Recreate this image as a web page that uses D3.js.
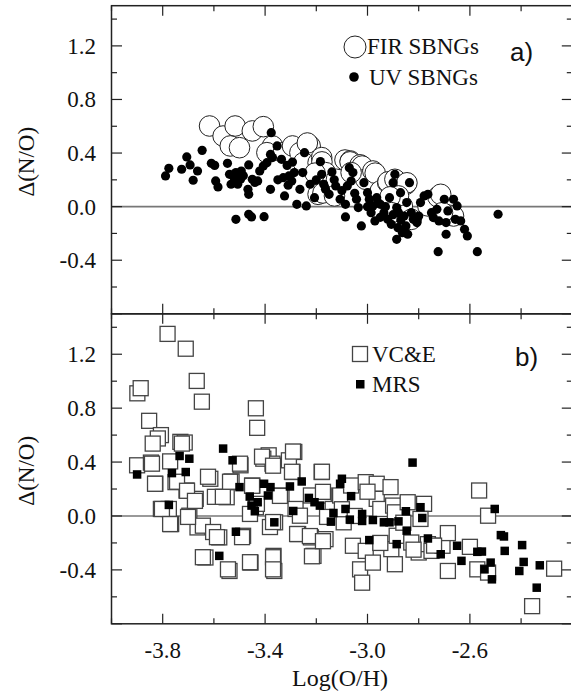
<!DOCTYPE html>
<html><head><meta charset="utf-8">
<script src="https://cdn.jsdelivr.net/npm/d3@7"></script>
<style>body{margin:0;background:#fff}svg{display:block}</style>
</head><body>
<svg id="c" width="571" height="694"></svg>
<script>
// ---- data ----
const xTicksMajor = [-3.8, -3.4, -3.0, -2.6];
const xTickLabels = ["-3.8", "-3.4", "-3.0", "-2.6"];
const yTicksMajor = [1.2, 0.8, 0.4, 0.0, -0.4];
const yTickLabels = ["1.2", "0.8", "0.4", "0.0", "-0.4"];

const firSBNGs = [
[-3.617,0.602],[-3.564,0.527],[-3.517,0.602],[-3.536,0.453],[-3.5,0.44],[-3.45,0.565],[-3.407,0.597],
[-3.371,0.453],[-3.393,0.403],[-3.329,0.403],[-3.293,0.453],[-3.264,0.403],[-3.224,0.453],[-3.25,0.328],
[-3.235,0.475],[-3.193,0.328],[-3.179,0.366],[-3.178,0.334],[-3.193,0.092],[-3.174,0.102],[-3.164,0.254],
[-3.205,0.25],[-3.121,0.204],[-3.129,0.08],[-3.088,0.348],[-3.067,0.341],[-3.068,0.334],[-3.029,0.312],
[-3.021,0.303],[-3.007,0.204],[-2.979,0.266],[-2.97,0.25],[-3.064,0.254],[-2.95,0.117],[-2.921,0.179],
[-2.92,0.185],[-2.893,0.204],[-2.85,0.167],[-2.846,0.178],[-2.864,0.005],[-2.879,0.08],[-2.912,0.073],
[-2.907,-0.045],[-2.829,-0.095],[-2.764,0.005],[-2.725,0.073],[-2.714,0.092],[-2.686,-0.062],
[-2.664,-0.07],[-2.707,-0.045]
];
const uvSBNGs = [
[-3.789,0.229],[-3.776,0.286],[-3.726,0.279],[-3.706,0.371],[-3.693,0.311],[-3.681,0.197],[-3.664,0.266],
[-3.646,0.42],[-3.61,0.323],[-3.597,0.308],[-3.593,0.192],[-3.584,0.147],[-3.547,0.323],[-3.539,0.241],
[-3.533,0.167],[-3.514,0.254],[-3.507,0.167],[-3.493,0.266],[-3.496,0.204],[-3.464,0.311],[-3.467,0.129],
[-3.464,0.092],[-3.45,0.204],[-3.429,0.192],[-3.421,0.266],[-3.407,0.303],[-3.393,0.328],[-3.376,0.552],
[-3.353,0.453],[-3.379,0.129],[-3.379,0.39],[-3.371,0.366],[-3.336,0.353],[-3.324,0.08],[-3.514,-0.095],
[-3.464,-0.057],[-3.453,-0.077],[-3.404,-0.075],[-3.329,0.216],[-3.314,0.308],[-3.293,0.333],[-3.307,0.229],
[-3.296,0.192],[-3.286,0.254],[-3.276,0.017],[-3.264,0.129],[-3.253,0.254],[-3.246,0.403],[-3.239,0.005],
[-3.224,0.167],[-3.207,0.067],[-3.184,0.336],[-3.179,0.241],[-3.171,0.167],[-3.164,0.129],[-3.15,0.092],
[-3.139,0.259],[-3.124,0.154],[-3.107,0.055],[-3.086,-0.077],[-3.079,0.154],[-3.071,0.291],[-3.086,0.017],
[-3.064,0.191],[-3.057,0.254],[-3.043,0.055],[-3.036,-0.007],[-3.024,-0.144],[-3.014,0.179],[-3.0,0.104],
[-2.993,0.055],[-2.986,-0.045],[-2.979,0.005],[-2.971,-0.107],[-2.964,0.067],[-2.95,0.017],[-2.936,-0.045],
[-2.921,-0.095],[-2.914,0.067],[-2.907,-0.132],[-2.9,0.179],[-2.893,0.241],[-2.886,-0.244],[-2.886,-0.007],
[-2.881,-0.157],[-2.879,-0.045],[-2.871,0.104],[-2.864,-0.194],[-2.857,-0.07],[-2.85,-0.144],[-2.847,0.03],
[-2.843,-0.206],[-2.836,0.179],[-2.829,-0.045],[-2.821,-0.095],[-2.807,-0.119],[-2.8,-0.07],[-2.793,0.03],
[-2.779,0.08],[-2.764,0.092],[-2.75,-0.045],[-2.743,-0.082],[-2.729,-0.02],[-2.724,-0.336],[-2.721,-0.107],
[-2.7,0.055],[-2.693,-0.206],[-2.693,-0.119],[-2.686,-0.032],[-2.664,0.055],[-2.657,-0.095],[-2.65,0.005],
[-2.636,-0.107],[-2.621,-0.169],[-2.61,-0.219],[-2.571,-0.336],[-2.49,-0.057],
[-3.52,0.21],[-3.485,0.23],[-3.44,0.18],[-3.35,0.2],[-3.31,0.16],[-3.2,0.2],[-3.13,0.2],[-3.1,0.12],
[-3.05,0.1],[-2.96,0.03],[-2.93,0.0],[-2.9,-0.06],[-2.87,-0.1],[-2.95,-0.08],[-3.0,0.0]
];
const vcE = [
[-3.781,1.351],[-3.71,1.241],[-3.667,1.002],[-3.647,0.848],[-3.899,0.91],[-3.886,0.948],[-3.853,0.706],
[-3.807,0.6],[-3.819,0.575],[-3.839,0.537],[-3.9,0.376],[-3.846,0.396],[-3.771,0.405],[-3.731,0.55],
[-3.714,0.545],[-3.829,0.239],[-3.75,0.251],[-3.707,0.189],[-3.671,0.127],[-3.807,0.052],[-3.776,0.052],
[-3.767,-0.06],[-3.696,0.002],[-3.664,-0.085],[-3.643,-0.072],[-3.579,-0.159],[-3.614,0.276],[-3.633,-0.308],
[-3.539,-0.408],[-3.531,0.256],[-3.55,0.139],[-3.496,0.376],[-3.486,-0.147],[-3.457,-0.346],[-3.436,0.799],
[-3.431,0.654],[-3.45,0.226],[-3.436,0.065],[-3.386,0.45],[-3.407,0.425],[-3.371,0.388],[-3.367,-0.296],
[-3.364,-0.408],[-3.361,-0.047],[-3.336,0.152],[-3.286,0.475],[-3.293,0.326],[-3.307,0.413],[-3.281,0.052],
[-3.271,-0.134],[-3.264,0.002],[-3.221,0.152],[-3.211,-0.296],[-3.221,-0.159],[-3.179,0.326],[-3.171,0.152],
[-3.164,-0.172],[-3.136,0.052],[-3.107,0.152],[-3.093,-0.047],[-3.064,0.226],[-3.057,-0.221],[-3.029,-0.396],
[-3.021,-0.495],[-3.007,0.251],[-3.007,-0.259],[-2.979,-0.346],[-2.964,0.239],[-2.964,0.127],[-2.95,0.052],
[-2.91,0.214],[-2.907,-0.246],[-2.9,0.077],[-2.893,0.027],[-2.893,-0.358],[-2.886,-0.147],[-2.843,0.102],
[-2.829,-0.197],[-2.8,-0.271],[-2.779,0.09],[-2.793,-0.022],[-2.764,-0.209],[-2.75,-0.259],[-2.707,-0.221],
[-2.686,-0.127],[-2.686,-0.408],[-2.6,-0.229],[-2.564,0.189],[-2.529,0.002],[-2.571,-0.396],[-2.529,-0.42],
[-2.357,-0.669],[-2.271,-0.391],
[-3.842,0.388],[-3.725,0.537],[-3.83,0.239],[-3.744,0.254],[-3.705,0.187],[-3.674,0.112],[-3.803,0.052],
[-3.771,-0.06],[-3.701,-0.007],[-3.603,-0.119],[-3.588,-0.157],[-3.623,0.291],[-3.596,0.142],[-3.565,0.142],
[-3.537,0.254],[-3.498,0.388],[-3.49,-0.157],[-3.459,-0.343],[-3.545,-0.396],[-3.643,-0.306],[-3.412,0.44],
[-3.369,0.373],[-3.291,0.478],[-3.451,0.224],[-3.432,0.09],[-3.459,0.015],[-3.381,-0.082],[-3.369,-0.045],
[-3.342,0.149],[-3.295,0.328],[-3.275,-0.134],[-3.225,-0.149],[-3.217,-0.299],[-3.178,0.328],[-3.174,0.179],
[-3.158,-0.007],[-3.174,-0.187],[-3.369,-0.306],[-3.369,-0.396],[-3.1,0.05],[-3.05,0.0],[-3.0,0.18],
[-2.95,-0.2],[-2.86,-0.05],[-2.82,-0.25],[-2.74,-0.22]
];
const mrs = [
[-3.9,0.308],[-3.776,0.082],[-3.764,0.318],[-3.734,0.445],[-3.71,0.326],[-3.696,0.425],[-3.579,-0.296],
[-3.564,0.5],[-3.527,0.413],[-3.514,-0.117],[-3.5,0.214],[-3.46,0.144],[-3.453,0.077],[-3.44,0.035],
[-3.429,0.102],[-3.404,0.239],[-3.389,0.152],[-3.379,0.214],[-3.364,-0.047],[-3.303,0.219],[-3.29,0.037],
[-3.257,0.256],[-3.229,0.134],[-3.207,0.102],[-3.186,0.077],[-3.133,0.022],[-3.143,-0.042],[-3.107,0.239],
[-3.1,0.276],[-3.086,0.052],[-3.069,-0.027],[-3.064,0.147],[-3.021,0.015],[-3.021,-0.037],[-2.993,-0.179],
[-2.979,-0.03],[-2.936,-0.047],[-2.914,-0.047],[-2.886,-0.209],[-2.879,-0.04],[-2.85,0.035],[-2.847,-0.109],
[-2.824,0.396],[-2.793,0.065],[-2.786,-0.015],[-2.764,-0.167],[-2.714,-0.284],[-2.65,-0.221],[-2.633,-0.333],
[-2.571,-0.266],[-2.553,-0.264],[-2.543,-0.396],[-2.519,-0.346],[-2.514,-0.47],[-2.503,0.052],[-2.479,-0.142],
[-2.467,-0.152],[-2.464,-0.259],[-2.407,-0.408],[-2.396,-0.216],[-2.39,-0.341],[-2.339,-0.532],[-2.327,-0.366]
];

// ---- drawing ----
const svg = d3.select("#c");
const serif = "'Liberation Serif','Times New Roman',serif";
const sans = "'Liberation Sans',Arial,sans-serif";
const x = d3.scaleLinear().domain([-4.0, -2.2]).range([111.5, 572.3]);
const panels = [
  {top: 5.7, bottom: 313.8},
  {top: 313.8, bottom: 623.8}
];
const xMinor = d3.range(-4.0, -2.19, 0.2).map(v => +v.toFixed(1));
const yMinor = d3.range(-0.8, 1.51, 0.2).map(v => +v.toFixed(1));

panels.forEach((p, i) => {
  const y = d3.scaleLinear().domain([-0.8, 1.5]).range([p.bottom, p.top]);
  p.y = y;
  const g = svg.append("g");
  // zero line
  g.append("line").attr("x1", x(-4.0)).attr("x2", x(-2.2)).attr("y1", y(0)).attr("y2", y(0))
    .attr("stroke", "#777").attr("stroke-width", 1.6);
  // ticks
  const isMajX = v => xTicksMajor.some(t => Math.abs(t - v) < 1e-6);
  const isMajY = v => yTicksMajor.concat([-0.8]).some(t => Math.abs(t - v) < 1e-6);
  xMinor.forEach(v => {
    const L = isMajX(v) ? 10 : 5.5;
    g.append("line").attr("x1", x(v)).attr("x2", x(v)).attr("y1", p.top).attr("y2", p.top + L)
      .attr("stroke", "#222").attr("stroke-width", 1.2);
    g.append("line").attr("x1", x(v)).attr("x2", x(v)).attr("y1", p.bottom).attr("y2", p.bottom - L)
      .attr("stroke", "#222").attr("stroke-width", 1.2);
  });
  yMinor.forEach(v => {
    const L = isMajY(v) ? 10.5 : 5.5;
    g.append("line").attr("x1", x(-4.0)).attr("x2", x(-4.0) + L).attr("y1", y(v)).attr("y2", y(v))
      .attr("stroke", "#222").attr("stroke-width", 1.2);
    g.append("line").attr("x1", x(-2.2)).attr("x2", x(-2.2) - L).attr("y1", y(v)).attr("y2", y(v))
      .attr("stroke", "#222").attr("stroke-width", 1.2);
  });
  // frame
  g.append("rect").attr("x", x(-4.0)).attr("y", p.top).attr("width", x(-2.2) - x(-4.0))
    .attr("height", p.bottom - p.top).attr("fill", "none").attr("stroke", "#222").attr("stroke-width", 1.5);
  // y tick labels
  g.selectAll("text.yt").data(yTicksMajor).enter().append("text")
    .attr("x", 96).attr("y", d => y(d) + 8).attr("text-anchor", "end")
    .attr("font-family", serif).attr("font-size", 23).attr("fill", "#111")
    .text((d, k) => yTickLabels[k]);
  // y axis title
  g.append("text").attr("transform", `translate(34,${(p.top + p.bottom) / 2 + 2}) rotate(-90)`)
    .attr("text-anchor", "middle").attr("font-family", serif).attr("font-size", 23).attr("fill", "#111")
    .text("Δ(N/O)");
});

// top panel marks
const yA = panels[0].y, yB = panels[1].y;
const gA = svg.append("g");
gA.selectAll("circle.fir").data(firSBNGs).enter().append("circle")
  .attr("cx", d => x(d[0])).attr("cy", d => yA(d[1])).attr("r", 10.3)
  .attr("fill", "#fff").attr("stroke", "#222").attr("stroke-width", 1);
gA.selectAll("circle.uv").data(uvSBNGs).enter().append("circle")
  .attr("cx", d => x(d[0])).attr("cy", d => yA(d[1])).attr("r", 4.6).attr("fill", "#000");

// bottom panel marks
const gB = svg.append("g");
const S = 15, s = 8.5;
gB.selectAll("rect.vc").data(vcE).enter().append("rect")
  .attr("x", d => x(d[0]) - S / 2).attr("y", d => yB(d[1]) - S / 2).attr("width", S).attr("height", S)
  .attr("fill", "#fff").attr("stroke", "#444").attr("stroke-width", 1.3);
gB.selectAll("rect.mrs").data(mrs).enter().append("rect")
  .attr("x", d => x(d[0]) - s / 2).attr("y", d => yB(d[1]) - s / 2).attr("width", s).attr("height", s)
  .attr("fill", "#000");

// legends
svg.append("circle").attr("cx", 355).attr("cy", 47).attr("r", 11).attr("fill", "#fff").attr("stroke", "#222").attr("stroke-width", 1);
svg.append("text").attr("x", 367).attr("y", 54).attr("font-family", serif).attr("font-size", 23).attr("fill", "#111").text("FIR SBNGs");
svg.append("circle").attr("cx", 354).attr("cy", 77).attr("r", 4.8).attr("fill", "#000");
svg.append("text").attr("x", 369).attr("y", 85).attr("font-family", serif).attr("font-size", 23).attr("fill", "#111").text("UV SBNGs");
svg.append("text").attr("x", 510).attr("y", 61).attr("font-family", sans).attr("font-size", 26).attr("fill", "#111").text("a)");

svg.append("rect").attr("x", 352.5).attr("y", 346.5).attr("width", 15).attr("height", 15).attr("fill", "#fff").attr("stroke", "#444").attr("stroke-width", 1.3);
svg.append("text").attr("x", 372).attr("y", 362).attr("font-family", serif).attr("font-size", 23).attr("fill", "#111").text("VC&E");
svg.append("rect").attr("x", 356).attr("y", 380).attr("width", 8.5).attr("height", 8.5).attr("fill", "#000");
svg.append("text").attr("x", 372).attr("y", 392).attr("font-family", serif).attr("font-size", 23).attr("fill", "#111").text("MRS");
svg.append("text").attr("x", 515).attr("y", 366).attr("font-family", sans).attr("font-size", 26).attr("fill", "#111").text("b)");

// x tick labels & title
svg.selectAll("text.xt").data(xTicksMajor).enter().append("text")
  .attr("x", d => x(d)).attr("y", 658).attr("text-anchor", "middle")
  .attr("font-family", serif).attr("font-size", 23).attr("fill", "#111")
  .text((d, k) => xTickLabels[k]);
svg.append("text").attr("x", 340).attr("y", 686).attr("text-anchor", "middle")
  .attr("font-family", serif).attr("font-size", 24).attr("fill", "#111").text("Log(O/H)");
</script>
</body></html>
